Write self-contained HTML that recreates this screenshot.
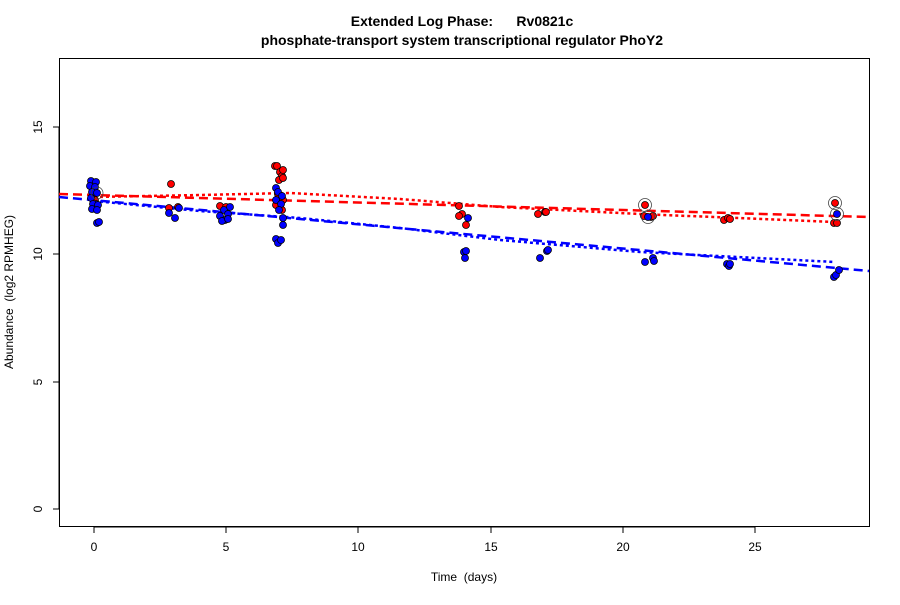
<!DOCTYPE html><html><head><style>body{margin:0;background:#fff}</style></head><body>
<svg width="900" height="600" xmlns="http://www.w3.org/2000/svg" font-family="Liberation Sans, sans-serif">
<rect width="900" height="600" fill="#fff"/>
<text x="462" y="26" text-anchor="middle" font-weight="bold" font-size="14" style="white-space:pre">Extended Log Phase:&#160;&#160;&#160;&#160;&#160;&#160;Rv0821c</text>
<text x="462" y="45" text-anchor="middle" font-weight="bold" font-size="14">phosphate-transport system transcriptional regulator PhoY2</text>
<rect x="59.5" y="58.5" width="810" height="468" fill="none" stroke="#000"/>
<g stroke="#000"><line x1="94" y1="527" x2="755" y2="527"/>
<line x1="94" y1="527" x2="94" y2="533"/><line x1="226" y1="527" x2="226" y2="533"/><line x1="358" y1="527" x2="358" y2="533"/><line x1="491" y1="527" x2="491" y2="533"/><line x1="623" y1="527" x2="623" y2="533"/><line x1="755" y1="527" x2="755" y2="533"/>
<line x1="59" y1="127" x2="59" y2="509"/>
<line x1="53" y1="509" x2="59" y2="509"/><line x1="53" y1="382" x2="59" y2="382"/><line x1="53" y1="254" x2="59" y2="254"/><line x1="53" y1="127" x2="59" y2="127"/></g>
<g font-size="12" text-anchor="middle"><text x="94" y="551">0</text><text x="226" y="551">5</text><text x="358" y="551">10</text><text x="491" y="551">15</text><text x="623" y="551">20</text><text x="755" y="551">25</text>
<text x="464" y="581" style="white-space:pre">Time  (days)</text>
<text transform="translate(42,509) rotate(-90)">0</text><text transform="translate(42,382) rotate(-90)">5</text><text transform="translate(42,254) rotate(-90)">10</text><text transform="translate(42,127) rotate(-90)">15</text>
<text transform="translate(13,292) rotate(-90)" style="white-space:pre">Abundance  (log2 RPMHEG)</text></g>
<g fill="none" stroke-width="2.5">
<line x1="59" y1="194" x2="869" y2="217" stroke="#f00" stroke-dasharray="9,5"/>
<polyline points="94,197 200,195 290,193 400,199 500,207 640,214 835,222" stroke="#f00" stroke-dasharray="3,3"/>
<line x1="59" y1="197" x2="869" y2="271" stroke="#00f" stroke-dasharray="9,5"/>
<polyline points="94,201 200,211 300,218 400,228 500,240 640,252 835,262" stroke="#00f" stroke-dasharray="3,3"/>
</g>
<g stroke="#000" stroke-width="0.8">
<g fill="#f00">
<circle cx="95" cy="200" r="3.5"/><circle cx="171" cy="184" r="3.5"/><circle cx="169" cy="208" r="3.5"/><circle cx="178" cy="207" r="3.5"/><circle cx="220" cy="206" r="3.5"/><circle cx="226" cy="207" r="3.5"/>
<circle cx="275" cy="166" r="3.5"/><circle cx="277" cy="166" r="3.5"/><circle cx="280" cy="172" r="3.5"/><circle cx="282" cy="176" r="3.5"/><circle cx="279" cy="180" r="3.5"/><circle cx="283" cy="170" r="3.5"/><circle cx="278" cy="194" r="3.5"/><circle cx="283" cy="200" r="3.5"/><circle cx="282" cy="210" r="3.5"/><circle cx="276" cy="205" r="3.5"/><circle cx="283" cy="178" r="3.5"/>
<circle cx="459" cy="206" r="3.5"/><circle cx="462" cy="214" r="3.5"/><circle cx="459" cy="216" r="3.5"/><circle cx="466" cy="225" r="3.5"/>
<circle cx="538" cy="214" r="3.5"/><circle cx="545" cy="212" r="3.5"/><circle cx="546" cy="212" r="3.5"/>
<circle cx="645" cy="205" r="3.5"/><circle cx="644" cy="216" r="3.5"/><circle cx="651" cy="217" r="3.5"/><circle cx="653" cy="216" r="3.5"/>
<circle cx="724" cy="220" r="3.5"/><circle cx="728" cy="218" r="3.5"/><circle cx="730" cy="219" r="3.5"/>
<circle cx="835" cy="203" r="3.5"/><circle cx="834" cy="223" r="3.5"/><circle cx="837" cy="223" r="3.5"/></g>
<g fill="#00f">
<circle cx="91" cy="181" r="3.5"/><circle cx="96" cy="182" r="3.5"/><circle cx="90" cy="186" r="3.5"/><circle cx="95" cy="187" r="3.5"/><circle cx="92" cy="192" r="3.5"/><circle cx="97" cy="193" r="3.5"/><circle cx="91" cy="198" r="3.5"/><circle cx="96" cy="204" r="3.5"/><circle cx="93" cy="204" r="3.5"/><circle cx="98" cy="205" r="3.5"/><circle cx="92" cy="209" r="3.5"/><circle cx="97" cy="210" r="3.5"/><circle cx="97" cy="223" r="3.5"/><circle cx="99" cy="222" r="3.5"/>
<circle cx="169" cy="213" r="3.5"/><circle cx="175" cy="218" r="3.5"/><circle cx="179" cy="208" r="3.5"/>
<circle cx="224" cy="210" r="3.5"/><circle cx="220" cy="216" r="3.5"/><circle cx="228" cy="214" r="3.5"/><circle cx="225" cy="220" r="3.5"/><circle cx="222" cy="221" r="3.5"/><circle cx="228" cy="219" r="3.5"/><circle cx="230" cy="207" r="3.5"/>
<circle cx="276" cy="188" r="3.5"/><circle cx="278" cy="192" r="3.5"/><circle cx="282" cy="196" r="3.5"/><circle cx="276" cy="200" r="3.5"/><circle cx="281" cy="204" r="3.5"/><circle cx="279" cy="210" r="3.5"/><circle cx="283" cy="218" r="3.5"/><circle cx="283" cy="225" r="3.5"/><circle cx="276" cy="239" r="3.5"/><circle cx="278" cy="243" r="3.5"/><circle cx="281" cy="240" r="3.5"/>
<circle cx="468" cy="218" r="3.5"/><circle cx="464" cy="252" r="3.5"/><circle cx="465" cy="258" r="3.5"/><circle cx="466" cy="251" r="3.5"/>
<circle cx="540" cy="258" r="3.5"/><circle cx="547" cy="251" r="3.5"/><circle cx="548" cy="250" r="3.5"/>
<circle cx="648" cy="217" r="3.5"/><circle cx="645" cy="262" r="3.5"/><circle cx="653" cy="258" r="3.5"/><circle cx="654" cy="261" r="3.5"/>
<circle cx="727" cy="264" r="3.5"/><circle cx="729" cy="266" r="3.5"/><circle cx="730" cy="264" r="3.5"/>
<circle cx="837" cy="214" r="3.5"/><circle cx="834" cy="277" r="3.5"/><circle cx="836" cy="275" r="3.5"/><circle cx="839" cy="270" r="3.5"/></g>
<g fill="none" stroke="#444"><circle cx="645" cy="205" r="6.5"/><circle cx="648" cy="217" r="6.5"/><circle cx="835" cy="203" r="6.5"/><circle cx="837" cy="214" r="6.5"/><circle cx="97" cy="193" r="6"/></g>
</g>
</svg></body></html>
